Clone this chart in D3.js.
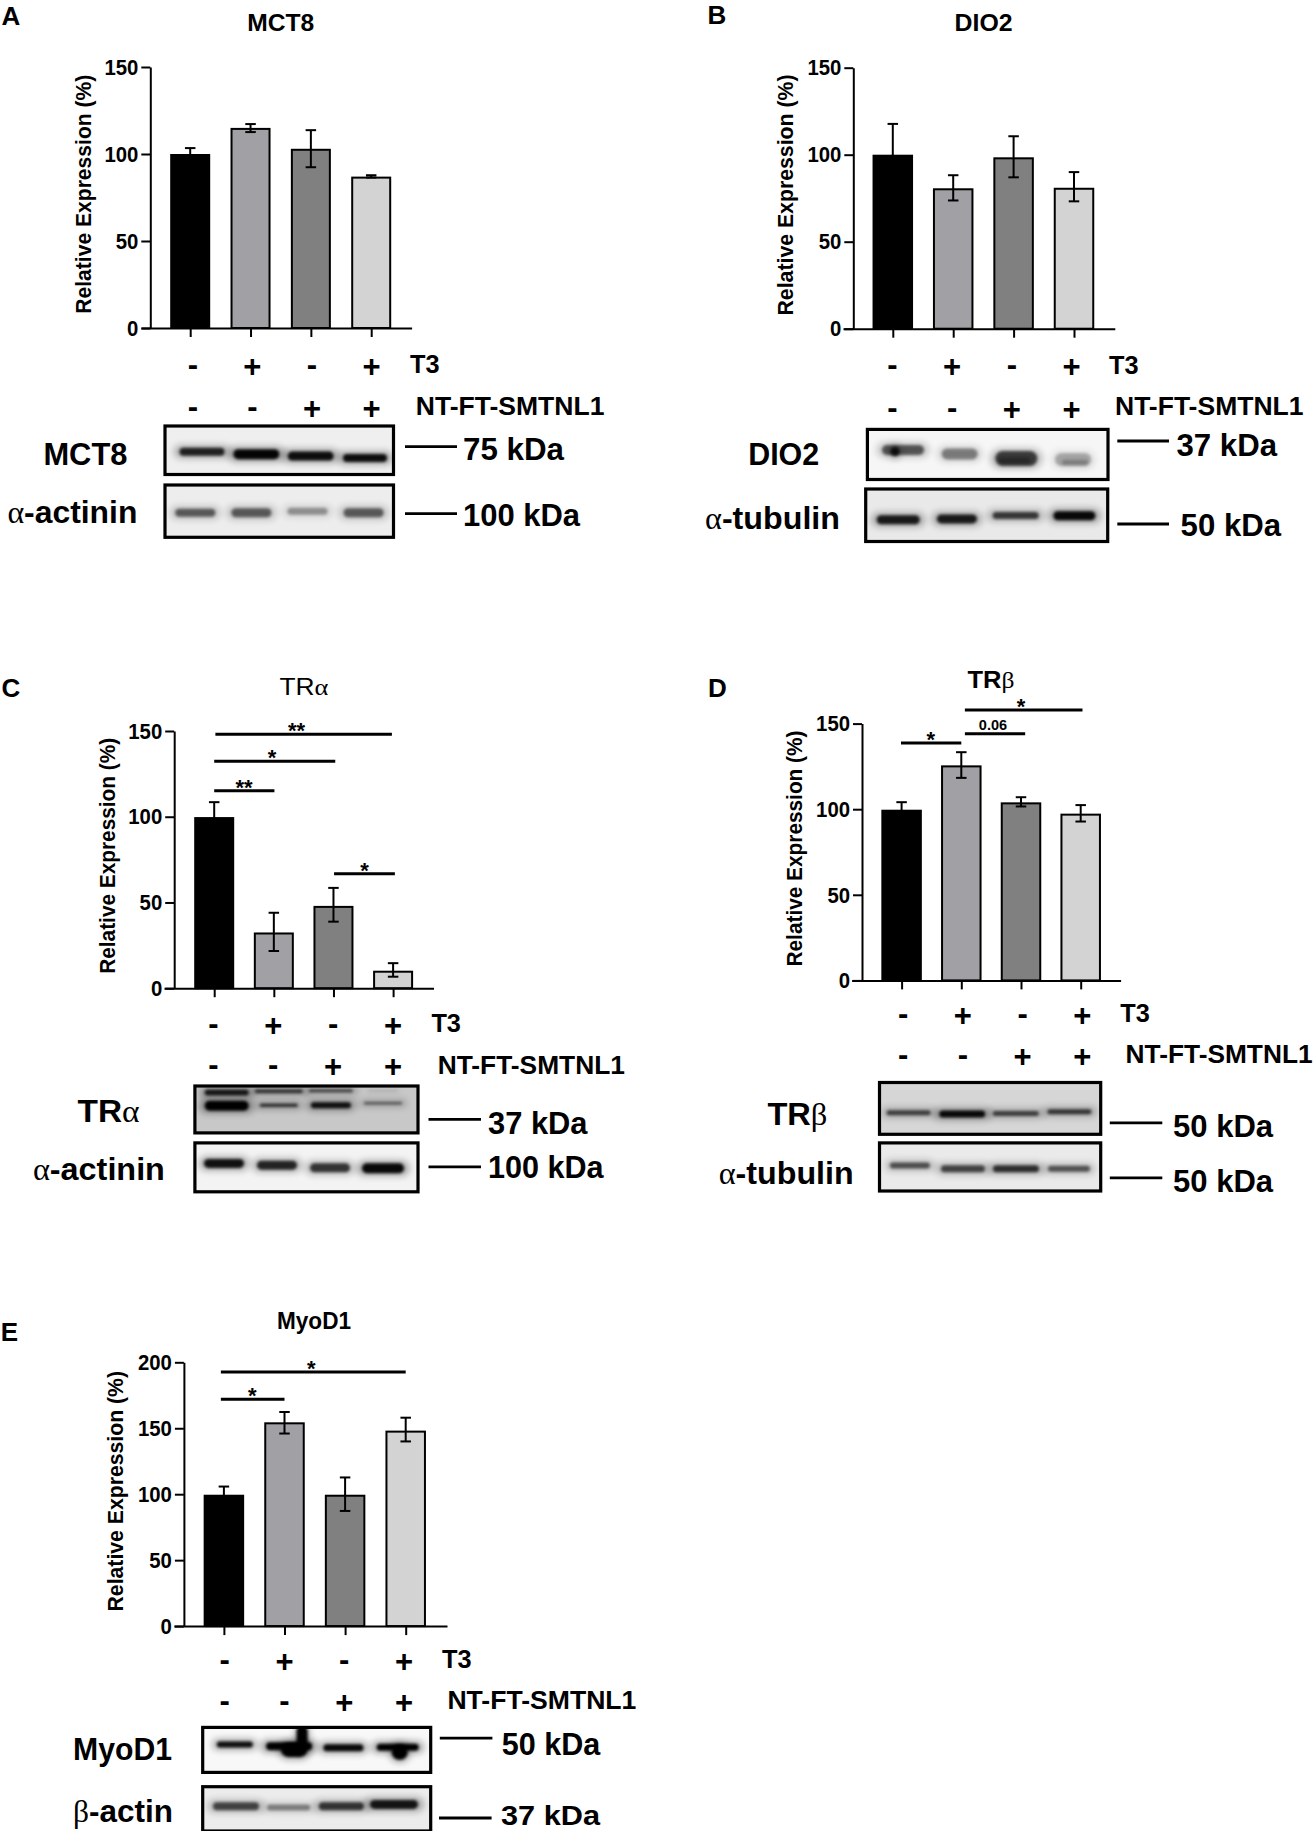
<!DOCTYPE html>
<html><head><meta charset="utf-8">
<script src="https://cdn.jsdelivr.net/npm/d3@7"></script>
<style>html,body{margin:0;padding:0;background:#fff}svg{display:block}text{font-family:"Liberation Sans",Arial,sans-serif;fill:#000}</style>
</head><body><div id="c"></div>
<script>
// ---------- data ----------
const t3Signs = ["-","+","-","+"];
const ntSigns = ["-","-","+","+"];
const barColors = ["#000000","#a0a0a5","#808080","#d3d3d3"];

const mct8Values = [100,115,103,87];
const mct8Upper  = [103.4,117.2,113.7,87.8];
const mct8Lower  = [96.6,112.6,92.4,86.5];

const dio2Values = [100,80.7,98.5,81];
const dio2Upper  = [117.7,88.2,110.6,90];
const dio2Lower  = [82.3,73.7,87,73.2];

const traValues = [99.8,32.5,48,10.2];
const traUpper  = [108.5,44,58.5,14.6];
const traLower  = [91,21.7,38.8,6.7];

const trbValues = [99.7,125.6,104,97.4];
const trbUpper  = [104.1,133.3,107,102.4];
const trbLower  = [95.3,118.3,101.6,92.8];

const myoValues = [99.6,154.5,99.6,148.2];
const myoUpper  = [105.8,162.3,112.7,158];
const myoLower  = [93.4,146,87.3,140];

const yTicks150 = [0,50,100,150];
const yTicks200 = [0,50,100,150,200];

// significance brackets: [from group, to group, level, label, label position in groups]
const traSig = [[0.02,2.98,148.1,"**",1.38],[0,2.03,132.3,"*",0.97],[0,1.01,115.2,"**",0.5],[2.01,3.03,66.7,"*",2.52]];
const trbSig = [[-0.01,1,138.7,"*",0.49],[1.06,2.07,144,"0.06",1.53],[1.06,3.03,157.9,"*",2.0]];
const myoSig = [[-0.05,1,172,"*",0.47],[-0.05,3,192.6,"*",1.44]];

// blot band densities by lane
const bandMct8  = [.82,.97,.92,.92];
const bandActA  = [.55,.55,.33,.55];
const bandDio2  = [.58,.42,.68,.25];
const bandTubB  = [.85,.85,.7,.95];
const bandTra   = [1,.8,.9,.65];
const bandTraTop= [.85,.7,.65,.1];
const bandActC  = [.9,.8,.72,.95];
const bandTrb   = [.65,.95,.65,.7];
const bandTubD  = [.6,.65,.75,.58];
const bandMyo   = [.92,1,.95,1];
const bandActE  = [.65,.4,.72,.88];

// ---------- layout ----------
const panels = [
 {letter:"A",lx:11,ly:16,title:[["MCT8",1]],tx:280.7,ty:23,tlen:67,tsize:23,
  axisX:150.3,yTop:67,yBase:328,domMax:150,ticks:yTicks150,xl:141,xr:411.6,c0:190.2,c3:371.2,bw:38,
  values:mct8Values,up:mct8Upper,lo:mct8Lower,sig:[],
  ylabX:83.3,ylabC:194.2,ylabL:239,
  row1:[192.8,371.6],row1y:366.6,t3x:410,t3y:363.6,row2y:408.7,ntx:415.8,nty:405.7,ntl:188.6,
  blots:[
   {box:[165,393.5,426,474.5],bg:"#efefef",lanes:[202,365],label:[["MCT8",1]],lblx:85.4,lbly:453.5,lbll:84,
    line:[405,457,446.6],kda:"75 kDa",kx:463,ky:449,kl:101,
    layers:[{d:bandMct8,y:[.53,.58,.62,.66],w:[45,46,46,44],h:[8,10,9,8]}]},
   {box:[165,393.5,485,537.3],bg:"#ededed",lanes:[195.3,363.6],label:[["α",0],["-actinin",1]],lblx:72.4,lbly:511.7,lbll:130,
    line:[405,457,513.6],kda:"100 kDa",kx:463,ky:514.7,kl:117,
    layers:[{d:bandActA,y:[.53,.53,.5,.53],w:[40,40,40,40],h:[8,9,7,9]}]}]},
 {letter:"B",lx:717,ly:14.5,title:[["DIO2",1]],tx:983.6,ty:23,tlen:58,tsize:23,
  axisX:853.3,yTop:67.7,yBase:328.7,domMax:150,ticks:yTicks150,xl:843,xr:1114.8,c0:892.8,c3:1074,bw:38.5,
  values:dio2Values,up:dio2Upper,lo:dio2Lower,sig:[],
  ylabX:785,ylabC:195,ylabL:241,
  row1:[892.4,1071.5],row1y:367,t3x:1109,t3y:365,row2y:410,ntx:1115,nty:406,ntl:188.5,
  blots:[
   {box:[867.4,1108,429.4,479.5],bg:"#f6f6f6",lanes:[903,1073],label:[["DIO2",1]],lblx:783.7,lbly:454,lbll:71,
    line:[1117.3,1169,441],kda:"37 kDa",kx:1176.5,ky:445,kl:100.5,
    layers:[{d:bandDio2,y:[.41,.49,.58,.6],w:[42,36,42,36],h:[10,11,15,13]},{d:[.8,0,.25,.2],y:[.44,.5,.62,.66],w:[9,1,32,26],h:[9,1,6,5],off:[-8,0,-2,2]}]},
   {box:[865.7,1107.7,489,541.5],bg:"#e9e9e9",lanes:[898.2,1074.4],label:[["α",0],["-tubulin",1]],lblx:772.5,lbly:518,lbll:135,
    line:[1117.3,1169,524],kda:"50 kDa",kx:1180.6,ky:525,kl:100.5,
    layers:[{d:bandTubB,y:[.585,.57,.505,.51],w:[43,40,46,42],h:[9,9,7,9]}]}]},
 {letter:"C",lx:11,ly:687.5,title:[["TR",0],["α",2]],tx:303.9,ty:686.8,tlen:49,tsize:23,
  axisX:174.2,yTop:731,yBase:988.2,domMax:150,ticks:yTicks150,xl:164,xr:433.5,c0:214.2,c3:393.1,bw:38,
  values:traValues,up:traUpper,lo:traLower,sig:traSig,
  ylabX:107.7,ylabC:855.8,ylabL:236,
  row1:[213.4,393],row1y:1025.7,t3x:431.4,t3y:1023,row2y:1067,ntx:437.7,nty:1064.3,ntl:187.3,
  blots:[
   {box:[194.9,418,1086,1132.9],bg:"#c8c8c8",lanes:[226.7,383],label:[["TR",1],["α",2]],lblx:108.6,lbly:1110.7,lbll:62,
    line:[428.5,481,1119.3],kda:"37 kDa",kx:488,ky:1123,kl:99.5,
    layers:[{d:bandTra,y:[.42,.41,.41,.37],w:[44,38,40,38],h:[10,3,6,2]},{d:bandTraTop,y:[.14,.11,.1,.1],w:[44,48,44,30],h:[6,4,3,2]}]},
   {box:[194.9,418,1142.9,1191.8],bg:"#f3f3f3",lanes:[224,383],label:[["α",0],["-actinin",1]],lblx:98.9,lbly:1169,lbll:132,
    line:[428.5,481,1166.8],kda:"100 kDa",kx:488,ky:1167,kl:115.5,
    layers:[{d:bandActC,y:[.42,.455,.51,.52],w:[40,40,40,42],h:[9,9,9,10]}]}]},
 {letter:"D",lx:717.5,ly:688,title:[["TR",1],["β",2]],tx:991,ty:679.6,tlen:47,tsize:23,
  axisX:862,yTop:723.6,yBase:980.4,domMax:150,ticks:yTicks150,xl:851.6,xr:1120.6,c0:901.6,c3:1080.7,bw:38.5,
  values:trbValues,up:trbUpper,lo:trbLower,sig:trbSig,
  ylabX:794.5,ylabC:848.5,ylabL:236,
  row1:[903.2,1082.3],row1y:1015.4,t3x:1120.2,t3y:1012.9,row2y:1057,ntx:1125.6,nty:1054,ntl:187,
  blots:[
   {box:[879.5,1100.7,1082.5,1134.3],bg:"#d6d6d6",lanes:[908.6,1069.4],label:[["TR",1],["β",2]],lblx:797.4,lbly:1113.6,lbll:60,
    line:[1109.8,1162.3,1122.9],kda:"50 kDa",kx:1173.1,ky:1126,kl:100,
    layers:[{d:bandTrb,y:[.585,.61,.6,.565],w:[44,46,46,44],h:[5,7,5,5]}]},
   {box:[879.5,1100.7,1142.9,1191],bg:"#eaeaea",lanes:[909.9,1069],label:[["α",0],["-tubulin",1]],lblx:786.2,lbly:1172.5,lbll:135,
    line:[1109.8,1162.3,1177.9],kda:"50 kDa",kx:1173.1,ky:1180.7,kl:100,
    layers:[{d:bandTubD,y:[.47,.54,.54,.54],w:[40,44,46,42],h:[6,7,7,6]}]}]},
 {letter:"E",lx:9.3,ly:1332,title:[["MyoD1",1]],tx:314,ty:1320.3,tlen:74,tsize:23,
  axisX:183.9,yTop:1362.3,yBase:1626.1,domMax:200,ticks:yTicks200,xl:173.8,xr:447,c0:223.9,c3:405.7,bw:38.5,
  values:myoValues,up:myoUpper,lo:myoLower,sig:myoSig,
  ylabX:115.7,ylabC:1491.2,ylabL:240.5,
  row1:[224.7,404],row1y:1661.7,t3x:442,t3y:1659,row2y:1703,ntx:447.4,nty:1699.6,ntl:189,
  blots:[
   {box:[202.7,430.7,1727.4,1772.4],bg:"#f8f8f8",lanes:[234.8,397.7],label:[["MyoD1",1]],lblx:122.5,lbly:1748.7,lbll:99,
    line:[439.8,492.4,1738.2],kda:"50 kDa",kx:501.7,ky:1743.6,kl:98.5,
    layers:[{d:bandMyo,y:[.38,.42,.45,.44],w:[36,46,40,42],h:[6,8,7,7]},{d:[0,1,0,1],y:[.4,.5,.4,.55],w:[1,26,1,16],h:[1,14,1,15],off:[0,5,0,2]},{d:[0,1,0,0],y:[.4,.25,.4,.5],w:[1,11,1,1],h:[1,26,1,1],off:[0,13,0,0]}]},
   {box:[202.7,430.7,1786.7,1831],bg:"#ececec",lanes:[236,394],label:[["β",0],["-actin",1]],lblx:122.9,lbly:1810.7,lbll:100,
    line:[439,491.6,1818],kda:"37 kDa",kx:501,ky:1814.5,kl:99,ksize:28.5,
    layers:[{d:bandActE,y:[.44,.47,.44,.40],w:[46,43,45,48],h:[8,6,8,9]}]}]}
];

// ---------- drawing ----------
const W=1313,H=1831;
const svg=d3.select("#c").append("svg").attr("width",W).attr("height",H).attr("viewBox",`0 0 ${W} ${H}`);
svg.append("rect").attr("width",W).attr("height",H).attr("fill","#fff");
const defs=svg.append("defs");
[["blur",1.8],["halo",3.6]].forEach(([id,s])=>{
  defs.append("filter").attr("id",id).attr("x","-60%").attr("y","-400%").attr("width","220%").attr("height","900%")
    .append("feGaussianBlur").attr("stdDeviation",s);
});

function txt(g,o){
  const size=o.size;
  const base=(o.shift===undefined?0.358:o.shift)*size;
  const t=g.append("text").attr("x",o.x).attr("y",o.y+base).attr("font-size",size)
    .attr("text-anchor",o.anchor||"start");
  if(o.len) t.attr("textLength",o.len).attr("lengthAdjust","spacingAndGlyphs");
  (o.parts||[[o.s,o.bold?1:0]]).forEach(([s,k])=>{
    t.append("tspan").text(s)
     .attr("font-weight",k===1?"bold":"normal")
     .attr("font-family",(k===0&&/[αβ]/.test(s))||k===2?'"Liberation Serif",serif':null);
  });
  return t;
}

panels.forEach((p,pi)=>{
  const g=svg.append("g");
  txt(g,{x:p.lx,y:p.ly,s:p.letter,bold:1,size:26,anchor:"middle"});
  txt(g,{x:p.tx,y:p.ty,parts:p.title,size:p.tsize,anchor:"middle",len:p.tlen});

  const x=d3.scaleLinear().domain([0,3]).range([p.c0,p.c3]);
  const y=d3.scaleLinear().domain([0,p.domMax]).range([p.yBase,p.yTop]);

  // bars (outline sits inside the value)
  g.selectAll("rect.bar").data(p.values).join("rect").attr("class","bar")
    .attr("x",(d,i)=>x(i)-p.bw/2).attr("width",p.bw)
    .attr("y",d=>y(d)+1).attr("height",d=>y(0)-y(d)-1)
    .attr("fill",(d,i)=>barColors[i]).attr("stroke","#000").attr("stroke-width",2);

  // error bars
  const capW=10.5;
  p.values.forEach((v,i)=>{
    const e=g.append("g").attr("stroke","#000").attr("stroke-width",2).attr("fill","none");
    e.append("line").attr("x1",x(i)).attr("x2",x(i)).attr("y1",y(p.up[i])).attr("y2",y(p.lo[i]));
    [p.up[i],p.lo[i]].forEach(w=>e.append("line").attr("x1",x(i)-capW/2).attr("x2",x(i)+capW/2).attr("y1",y(w)).attr("y2",y(w)));
  });

  // axes
  const yAxis=d3.axisLeft(y).tickValues(p.ticks).tickSize(9).tickSizeOuter(0).tickPadding(3).tickFormat(d3.format("d"));
  const ya=g.append("g").attr("transform",`translate(${p.axisX},0)`).call(yAxis);
  const xAxisScale=x.copy().domain([x.invert(p.xl),x.invert(p.xr)]).range([p.xl,p.xr]);
  const xAxis=d3.axisBottom(xAxisScale).tickValues([0,1,2,3]).tickSize(9).tickSizeOuter(0).tickFormat("");
  const xa=g.append("g").attr("transform",`translate(0,${p.yBase})`).call(xAxis);
  [ya,xa].forEach(a=>{a.selectAll("path,line").attr("stroke","#000").attr("stroke-width",2);a.select("path.domain").attr("fill","none");});
  ya.selectAll("text").attr("font-size",22.5).attr("font-weight","bold").attr("font-family",'"Liberation Sans",Arial,sans-serif').attr("fill","#000")
    .attr("lengthAdjust","spacingAndGlyphs").attr("textLength",d=>String(d).length*11.3);

  // y label
  const yl=g.append("g").attr("transform",`translate(${p.ylabX},${p.ylabC}) rotate(-90)`);
  txt(yl,{x:0,y:0,s:"Relative Expression (%)",bold:1,size:21.5,anchor:"middle",len:p.ylabL});

  // brackets
  p.sig.forEach(([a,b,l,s,pos])=>{
    g.append("line").attr("x1",x(a)).attr("x2",x(b)).attr("y1",y(l)).attr("y2",y(l)).attr("stroke","#000").attr("stroke-width",3);
    const small=s==="0.06";
    txt(g,{x:x(pos),y:y(l)-(small?9:7.5),s,bold:1,size:small?14.5:22,anchor:"middle",shift:small?0.358:0.52});
  });

  // sign rows
  const sx=d3.scaleLinear().domain([0,3]).range(p.row1);
  [[t3Signs,p.row1y],[ntSigns,p.row2y]].forEach(([signs,ry])=>{
    signs.forEach((s,i)=>txt(g,{x:sx(i),y:ry,s,bold:1,size:31,anchor:"middle",shift:s==="+"?0.33:0.27}));
  });
  txt(g,{x:p.t3x,y:p.t3y,s:"T3",bold:1,size:26,len:29.5});
  txt(g,{x:p.ntx,y:p.nty,s:"NT-FT-SMTNL1",bold:1,size:26.5,len:p.ntl});

  // blots
  p.blots.forEach((b,bi)=>{
    const [x0,x1,y0,y1]=b.box;
    const id=`clip${pi}_${bi}`;
    defs.append("clipPath").attr("id",id).append("rect").attr("x",x0).attr("y",y0).attr("width",x1-x0).attr("height",y1-y0);
    const bg=g.append("g");
    bg.append("rect").attr("x",x0).attr("y",y0).attr("width",x1-x0).attr("height",y1-y0).attr("fill",b.bg);
    const lane=d3.scaleLinear().domain([0,3]).range(b.lanes);
    const fy=d3.scaleLinear().domain([0,1]).range([y0,y1]);
    const inner=bg.append("g").attr("clip-path",`url(#${id})`);
    b.layers.forEach(L=>{
      const off=L.off||[0,0,0,0];
      // soft halo, then the band itself
      [["halo",1.25,5,.35],["blur",1,0,1]].forEach(([f,wm,hp,op])=>{
        inner.selectAll(null).data(L.d).join("rect")
          .attr("x",(d,i)=>lane(i)+off[i]-L.w[i]*wm/2).attr("width",(d,i)=>L.w[i]*wm)
          .attr("y",(d,i)=>fy(L.y[i])-(L.h[i]+hp)/2).attr("height",(d,i)=>L.h[i]+hp)
          .attr("rx",(d,i)=>Math.min(L.h[i]+hp,L.w[i])/2)
          .attr("fill","#000").attr("opacity",d=>d*op).attr("filter",`url(#${f})`);
      });
    });
    bg.append("rect").attr("x",x0).attr("y",y0).attr("width",x1-x0).attr("height",y1-y0)
      .attr("fill","none").attr("stroke","#000").attr("stroke-width",3.2);
    txt(g,{x:b.lblx,y:b.lbly,parts:b.label,size:31,anchor:"middle",len:b.lbll});
    g.append("line").attr("x1",b.line[0]).attr("x2",b.line[1]).attr("y1",b.line[2]).attr("y2",b.line[2]).attr("stroke","#000").attr("stroke-width",2.8);
    txt(g,{x:b.kx,y:b.ky,s:b.kda,bold:1,size:b.ksize||30.5,len:b.kl});
  });
});
</script></body></html>
